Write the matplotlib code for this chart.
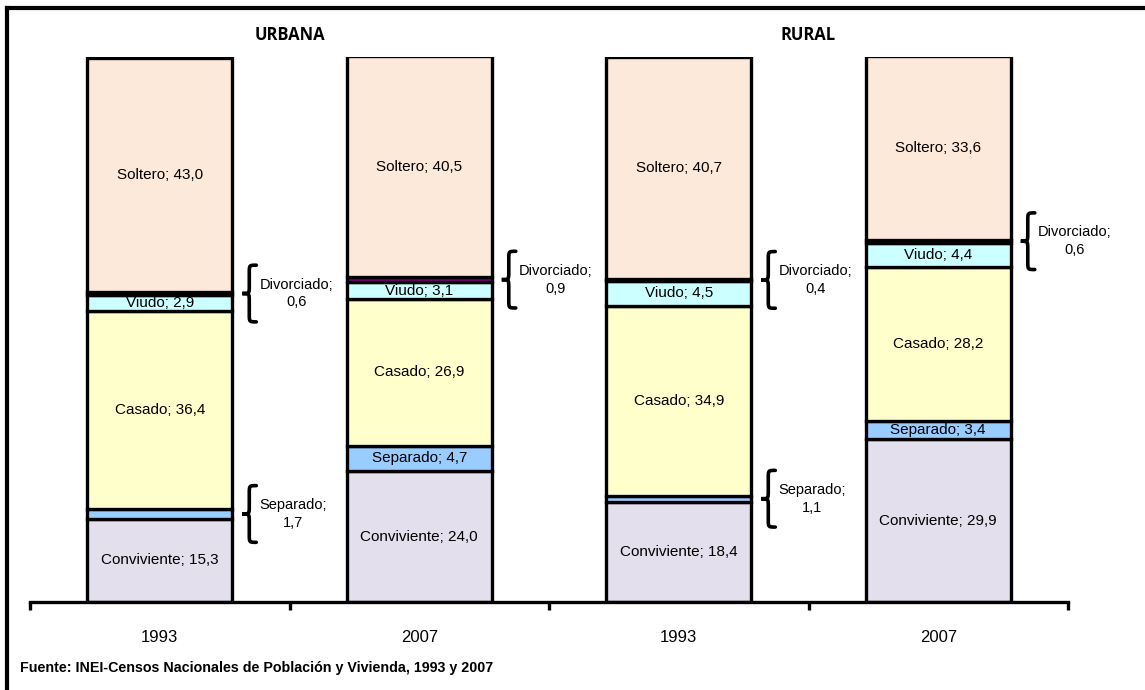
"""Estado civil por area de residencia, censos 1993 y 2007."""
import matplotlib
matplotlib.use("Agg")
import matplotlib.pyplot as plt
from matplotlib.lines import Line2D
from matplotlib.path import Path
from matplotlib.patches import PathPatch

years = ["1993", "2007", "1993", "2007"]
areas = ["URBANA", "RURAL"]
categories = ["Conviviente", "Separado", "Casado", "Viudo", "Divorciado", "Soltero"]

conviviente = [15.3, 24.0, 18.4, 29.9]
separado = [1.7, 4.7, 1.1, 3.4]
casado = [36.4, 26.9, 34.9, 28.2]
viudo = [2.9, 3.1, 4.5, 4.4]
divorciado = [0.6, 0.9, 0.4, 0.6]
soltero = [43.0, 40.5, 40.7, 33.6]

series = [conviviente, separado, casado, viudo, divorciado, soltero]
colors = ["#E4DFEC", "#99CCFF", "#FFFFCC", "#CCFFFF", "#800080", "#FDE9D9"]

# segments too thin for an inside label get a brace + outside label
small = {"Separado": 1.8, "Divorciado": 1.0}

FONT = ["Liberation Sans Narrow", "Liberation Sans", "DejaVu Sans"]


def brace(ax, x0, x1, c, h):
    """Left-pointing curly brace, tip at (x0, c), ends at x1, half height h."""
    xm = (x0 + x1) / 2
    r = h * 0.28
    verts = [
        (x1, c + h),
        (xm, c + h), (xm, c + h), (xm, c + h - r),
        (xm, c + r),
        (xm, c), (xm, c), (x0, c),
        (xm, c), (xm, c), (xm, c - r),
        (xm, c - h + r),
        (xm, c - h), (xm, c - h), (x1, c - h),
    ]
    codes = ([Path.MOVETO] + [Path.CURVE4] * 3 + [Path.LINETO]
             + [Path.CURVE4] * 6 + [Path.LINETO] + [Path.CURVE4] * 3)
    ax.add_patch(PathPatch(Path(verts, codes), fill=False, color="black",
                           linewidth=2.6, capstyle="round", zorder=3))


fig = plt.figure(figsize=(11.45, 6.9), dpi=100)
ax = fig.add_axes([30 / 1145, 88 / 690, (1068 - 30) / 1145, (603 - 58) / 690])

bottoms = [0.0] * len(years)
x = list(range(len(years)))
for name, vals, col in zip(categories, series, colors):
    ax.bar(x, vals, bottom=bottoms, width=0.56, color=col,
           edgecolor="black", linewidth=2.4, zorder=2)
    for i, v in enumerate(vals):
        mid = bottoms[i] + v / 2
        label = f"{name}; {v:.1f}".replace(".", ",")
        if name in small and v <= small[name]:
            brace(ax, i + 0.318, i + 0.372, mid, 5.2)
            ax.text(i + 0.385, mid, f"{name};\n{v:.1f}".replace(".", ","),
                    ha="left", va="center", multialignment="center",
                    fontsize=10.5, family=FONT, linespacing=1.35, zorder=3)
        else:
            ax.text(i, mid, label, ha="center", va="center",
                    fontsize=11, family=FONT, zorder=3)
    bottoms = [b + v for b, v in zip(bottoms, vals)]

ax.set_xlim(-0.5, len(years) - 0.5)
ax.set_ylim(0, 100)
for s in ["top", "right", "left"]:
    ax.spines[s].set_visible(False)
ax.spines["bottom"].set_linewidth(2.4)
ax.set_yticks([])
ax.set_xticks([i - 0.5 for i in range(len(years) + 1)], minor=False)
ax.set_xticklabels([])
ax.tick_params(axis="x", which="major", length=6, width=2.4, direction="out")
ax.set_xticks(x, minor=True)
ax.set_xticklabels(years, minor=True, fontsize=12, family=FONT)
ax.tick_params(axis="x", which="minor", length=0, pad=20)

for k, area in enumerate(areas):
    ax.text(2 * k + 0.5, 102.4, area, ha="center", va="bottom",
            fontsize=12, fontweight="bold", family=["Open Sans", "DejaVu Sans"])

# partial frame: only top and left edges show
fig.add_artist(Line2D([7 / 1145, 1.0], [1 - 8 / 690, 1 - 8 / 690],
                      transform=fig.transFigure, color="black", linewidth=3))
fig.add_artist(Line2D([7 / 1145, 7 / 1145], [0.0, 1 - 8 / 690],
                      transform=fig.transFigure, color="black", linewidth=3))

fig.text(20 / 1145, 1 - 668 / 690,
         "Fuente: INEI-Censos Nacionales de Población y Vivienda, 1993 y 2007",
         ha="left", va="center", fontsize=10.3, fontweight="bold", family=FONT)

fig.savefig("out.png", dpi=100)
